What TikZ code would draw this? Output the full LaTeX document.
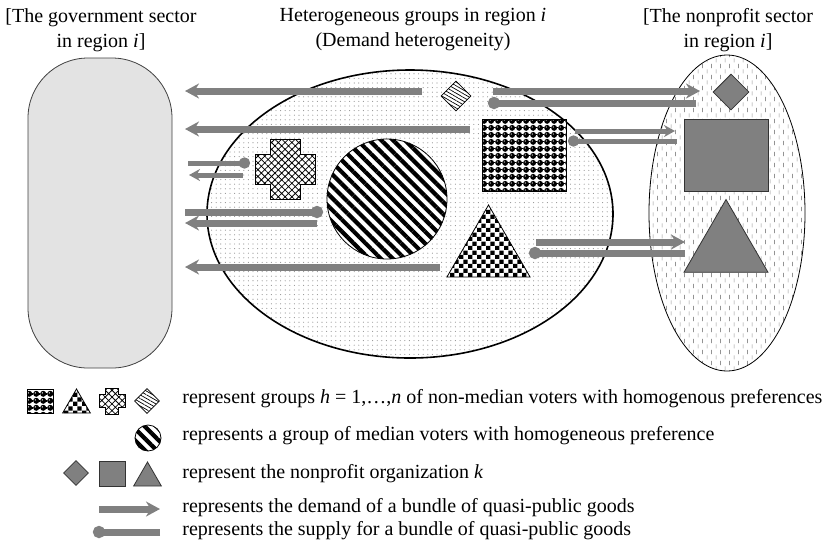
\documentclass[tikz,border=0pt]{standalone}
\usepackage{fontspec}
\setmainfont{Liberation Serif}
\usetikzlibrary{shapes.geometric,arrows.meta,patterns,patterns.meta}

\tikzdeclarepattern{
  name=chequer, type=uncolored,
  bottom left={(0pt,0pt)}, top right={(4.6pt,4.6pt)}, tile size={(4.6pt,4.6pt)},
  code={\fill (0pt,0pt) rectangle (2.3pt,2.3pt); \fill (2.3pt,2.3pt) rectangle (4.6pt,4.6pt);}
}
\tikzdeclarepattern{
  name=balls, type=colored,
  bottom left={(0pt,0pt)}, top right={(3.3pt,3.3pt)}, tile size={(3.3pt,3.3pt)},
  code={\fill[black] (1.65pt,1.65pt) circle (1.55pt); \fill[white] (1.2pt,2.1pt) circle (0.35pt);}
}
\tikzdeclarepattern{
  name=vdashes, type=uncolored,
  bottom left={(0pt,0pt)}, top right={(4.4pt,5.4pt)}, tile size={(4.4pt,5.4pt)},
  code={\draw[line width=.3pt] (1.1pt,.3pt) -- (1.1pt,2.4pt); \draw[line width=.3pt] (3.3pt,3pt) -- (3.3pt,5.1pt);}
}

\begin{document}
\begin{tikzpicture}[
    x=0.5pt, y=-0.5pt,
    font=\fontsize{10pt}{12.5pt}\selectfont,
    label/.style={align=center, inner sep=0pt},
    legendtext/.style={anchor=base west, inner sep=0pt},
    govbox/.style={rectangle, draw=black!75, fill=gray!22, rounded corners=30pt, minimum width=72pt, minimum height=155pt, inner sep=0pt},
    groupzone/.style={ellipse, draw, line width=.8pt, pattern={Dots[distance=2.3pt,radius=.28pt]}, pattern color=gray!85, minimum width=203pt, minimum height=144pt, inner sep=0pt},
    npzone/.style={ellipse, draw, line width=.4pt, pattern=vdashes, pattern color=gray!85, minimum width=78pt, minimum height=158pt, inner sep=0pt},
    median/.style={circle, draw, inner sep=0pt, preaction={fill=white}, pattern={Lines[angle=-45,distance=4.2pt,line width=2.1pt]}},
    ballgrp/.style={rectangle, draw, inner sep=0pt, preaction={fill=white}, pattern=balls},
    chequergrp/.style={regular polygon, regular polygon sides=3, draw, inner sep=0pt, preaction={fill=white}, pattern=chequer},
    crossgrp/.style={draw, preaction={fill=white}, pattern={Hatch[angle=45,distance=2.4pt,line width=.4pt]}},
    hatchgrp/.style={diamond, draw, inner sep=0pt, preaction={fill=white}, pattern={Lines[angle=-30,distance=1.6pt,line width=.35pt]}},
    npshape/.style={draw=black!80, fill=gray, inner sep=0pt},
    demand/.style={draw=gray, line width=3.5pt, -{Stealth[length=7pt,width=7.5pt]}},
    thindemand/.style={draw=gray, line width=2.5pt, -{Stealth[length=5.5pt,width=6pt]}},
    supply/.style={draw=gray, line width=3.5pt, -{Circle[length=6pt]}},
    thinsupply/.style={draw=gray, line width=2.5pt, -{Circle[length=5.5pt]}}
]
\useasboundingbox (0,0) rectangle (824,543);

% Titres
\node[label] (govlabel) at (101,30) {[The government sector\\in region \textit{i}]};
\node[label] (grouplabel) at (413,30) {Heterogeneous groups in region \textit{i}\\(Demand heterogeneity)};
\node[label] (nplabel) at (728,30) {[The nonprofit sector\\in region \textit{i}]};

% Secteurs
\node[govbox] (gov) at (100,213) {};
\node[groupzone] (groups) at (410,214) {};
\node[npzone] (nonprofit) at (727,213) {};

% Groupes
\node[hatchgrp, minimum size=15pt] (grphatch) at (456,96) {};
\node[ballgrp, minimum width=42pt, minimum height=36pt] (grpballs) at (524,155) {};
\draw[crossgrp, shift={(285,169)}] (-15,-30) -- (15,-30) -- (15,-15) -- (30,-15) -- (30,15) -- (15,15)
  -- (15,30) -- (-15,30) -- (-15,15) -- (-30,15) -- (-30,-15) -- (-15,-15) -- cycle;
\node[median, minimum size=60pt] (grpmedian) at (387,199) {};
\node[chequergrp, minimum size=48pt] (grpchequer) at (488.5,253) {};

% Organisations
\node[npshape, diamond, minimum size=18pt] (npdiamond) at (731,92) {};
\node[npshape, rectangle, minimum width=42pt, minimum height=36pt] (npsquare) at (726,155) {};
\node[npshape, regular polygon, regular polygon sides=3, minimum size=48.5pt] (nptriangle) at (726,248) {};

% Extremites des fleches
\coordinate (dg1a) at (422,91);  \coordinate (dg1b) at (185,91);
\coordinate (dg2a) at (470,129); \coordinate (dg2b) at (185,129);
\coordinate (sg3a) at (188,163); \coordinate (sg3b) at (250,163);
\coordinate (dg3a) at (243,175); \coordinate (dg3b) at (189,175);
\coordinate (sg4a) at (185,212); \coordinate (sg4b) at (323,212);
\coordinate (dg4a) at (317,223); \coordinate (dg4b) at (185,223);
\coordinate (dg5a) at (440,267); \coordinate (dg5b) at (185,267);
\coordinate (dn1a) at (493,91);  \coordinate (dn1b) at (700,91);
\coordinate (sn1a) at (696,103); \coordinate (sn1b) at (488,103);
\coordinate (dn2a) at (575,131); \coordinate (dn2b) at (675,131);
\coordinate (sn2a) at (677,141); \coordinate (sn2b) at (568,141);
\coordinate (dn3a) at (536,242); \coordinate (dn3b) at (685,242);
\coordinate (sn3a) at (685,253); \coordinate (sn3b) at (529,253);

% Fleches
\draw[demand] (dg1a) -- (dg1b);
\draw[demand] (dg2a) -- (dg2b);
\draw[thinsupply] (sg3a) -- (sg3b);
\draw[thindemand] (dg3a) -- (dg3b);
\draw[supply] (sg4a) -- (sg4b);
\draw[demand] (dg4a) -- (dg4b);
\draw[demand] (dg5a) -- (dg5b);
\draw[demand] (dn1a) -- (dn1b);
\draw[supply] (sn1a) -- (sn1b);
\draw[thindemand] (dn2a) -- (dn2b);
\draw[thinsupply] (sn2a) -- (sn2b);
\draw[demand] (dn3a) -- (dn3b);
\draw[supply] (sn3a) -- (sn3b);

% Legende
\node[ballgrp, minimum width=13pt, minimum height=12pt] (lgballs) at (40,401) {};
\node[chequergrp, minimum size=16pt] (lgchequer) at (76.5,405) {};
\draw[crossgrp, shift={(112,401)}, scale=0.43] (-15,-30) -- (15,-30) -- (15,-15) -- (30,-15) -- (30,15) -- (15,15)
  -- (15,30) -- (-15,30) -- (-15,15) -- (-30,15) -- (-30,-15) -- (-15,-15) -- cycle;
\node[hatchgrp, minimum size=12.5pt] (lghatch) at (147,401) {};
\node[median, minimum size=13pt] (lgmedian) at (148,438) {};
\node[npshape, diamond, minimum size=12.5pt] (lgnpdiamond) at (76,473) {};
\node[npshape, rectangle, minimum width=13pt, minimum height=12.5pt] (lgnpsquare) at (112,473.5) {};
\node[npshape, regular polygon, regular polygon sides=3, minimum size=16pt] (lgnptriangle) at (147.5,478) {};
\coordinate (lgda) at (99,509);  \coordinate (lgdb) at (160,509);
\coordinate (lgsa) at (160,532); \coordinate (lgsb) at (93,532);
\draw[demand] (lgda) -- (lgdb);
\draw[supply] (lgsa) -- (lgsb);

\node[legendtext] (lg1) at (182,403) {represent groups \textit{h} = 1,…,\textit{n} of non-median voters with homogenous preferences};
\node[legendtext] (lg2) at (182,440) {represents a group of median voters with homogeneous preference};
\node[legendtext] (lg3) at (182,478) {represent the nonprofit organization \textit{k}};
\node[legendtext] (lg4) at (182,512) {represents the demand of a bundle of quasi-public goods};
\node[legendtext] (lg5) at (182,535) {represents the supply for a bundle of quasi-public goods};

\end{tikzpicture}
\end{document}
